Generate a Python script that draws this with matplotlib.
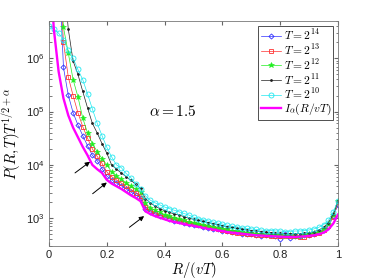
import numpy as np
import matplotlib
matplotlib.use('Agg')
import matplotlib.pyplot as plt

plt.rcParams['font.family'] = ['Liberation Sans', 'DejaVu Sans']
plt.rcParams['mathtext.fontset'] = 'cm'

# R/(vT) grid, step 1/60
R = np.arange(61) / 60

# log10 of P(R,T) T^(1/2+alpha)
logP_T14 = [10, 8.5, 7.9, 5.83, 5.31, 4.98, 4.75, 4.55, 4.36, 4.18,
            4.08, 3.93, 3.79, 3.72, 3.66, 3.61, 3.55, 3.49, 3.44, 3.38,
            3.18, 3.12, 3.08, 3.05, 3.02, 2.99, 2.95, 2.94, 2.91, 2.90,
            2.87, 2.87, 2.83, 2.82, 2.80, 2.79, 2.77, 2.76, 2.74, 2.74,
            2.71, 2.71, 2.70, 2.69, 2.67, 2.68, 2.68, 2.66, 2.62, 2.70,
            2.63, 2.66, 2.67, 2.68, 2.68, 2.70, 2.74, 2.78, 2.86, 3.05, 3.25]
logP_T13 = [10, 9.0, 8.0, 6.30, 5.65, 5.30, 4.98, 4.72, 4.50, 4.30,
            4.16, 4.03, 3.87, 3.78, 3.72, 3.66, 3.60, 3.54, 3.48, 3.42,
            3.22, 3.14, 3.10, 3.06, 3.03, 3.00, 2.98, 2.95, 2.93, 2.91,
            2.89, 2.87, 2.85, 2.83, 2.81, 2.79, 2.78, 2.77, 2.75, 2.72,
            2.73, 2.71, 2.70, 2.69, 2.68, 2.68, 2.67, 2.67, 2.66, 2.67,
            2.66, 2.66, 2.64, 2.65, 2.68, 2.70, 2.73, 2.78, 2.86, 3.02, 3.30]
logP_T12 = [10, 9.0, 8.0, 6.58, 6.10, 5.60, 5.28, 4.88, 4.60, 4.40,
            4.25, 4.12, 4.00, 3.87, 3.80, 3.73, 3.67, 3.60, 3.55, 3.49,
            3.28, 3.20, 3.15, 3.11, 3.07, 3.04, 3.01, 2.98, 2.96, 2.93,
            2.91, 2.89, 2.87, 2.86, 2.84, 2.82, 2.80, 2.79, 2.77, 2.76,
            2.75, 2.73, 2.72, 2.71, 2.70, 2.70, 2.69, 2.68, 2.68, 2.67,
            2.68, 2.67, 2.67, 2.68, 2.70, 2.72, 2.75, 2.80, 2.89, 3.06, 3.33]
logP_T11 = [10, 9.0, 8.5, 7.60, 6.55, 5.95, 5.70, 5.38, 5.07, 4.78,
            4.60, 4.40, 4.22, 4.00, 3.92, 3.85, 3.78, 3.71, 3.64, 3.56,
            3.37, 3.29, 3.23, 3.18, 3.14, 3.11, 3.08, 3.06, 3.03, 3.00,
            2.98, 2.96, 2.94, 2.92, 2.90, 2.88, 2.86, 2.84, 2.83, 2.81,
            2.80, 2.78, 2.77, 2.76, 2.75, 2.74, 2.73, 2.72, 2.72, 2.71,
            2.71, 2.71, 2.71, 2.72, 2.73, 2.75, 2.78, 2.83, 2.92, 3.08, 3.33]
logP_T10 = [6.60, 6.55, 6.47, 6.35, 6.15, 6.00, 5.79, 5.60, 5.33, 5.05,
            4.78, 4.55, 4.33, 4.15, 4.00, 3.95, 3.84, 3.76, 3.65, 3.54,
            3.42, 3.34, 3.29, 3.25, 3.21, 3.18, 3.15, 3.12, 3.09, 3.06,
            3.02, 2.99, 2.97, 2.95, 2.93, 2.91, 2.89, 2.87, 2.85, 2.84,
            2.82, 2.81, 2.80, 2.79, 2.78, 2.77, 2.77, 2.76, 2.76, 2.75,
            2.75, 2.76, 2.76, 2.77, 2.78, 2.80, 2.83, 2.88, 2.96, 3.12, 3.33]
logI_alpha = [8.0, 6.55, 5.75, 5.25, 4.93, 4.70, 4.52, 4.34, 4.18, 4.00,
              3.92, 3.85, 3.72, 3.65, 3.60, 3.55, 3.49, 3.43, 3.38, 3.32,
              3.13, 3.08, 3.04, 3.01, 2.98, 2.95, 2.93, 2.91, 2.89, 2.87,
              2.86, 2.84, 2.82, 2.80, 2.79, 2.77, 2.76, 2.74, 2.73, 2.72,
              2.71, 2.70, 2.69, 2.68, 2.675, 2.67, 2.665, 2.66, 2.655, 2.65,
              2.65, 2.65, 2.655, 2.66, 2.67, 2.68, 2.70, 2.73, 2.79, 2.90, 3.07]

labels = [r'$T=2^{14}$', r'$T=2^{13}$', r'$T=2^{12}$', r'$T=2^{11}$', r'$T=2^{10}$']

# arrows (tail R, tail log, head R, head log)
arrows = [(0.09, 3.85, 0.142, 4.06),
          (0.151, 3.46, 0.20, 3.67),
          (0.278, 2.83, 0.329, 3.04)]

fig = plt.figure(figsize=(3.74, 2.80), dpi=100)
ax = fig.add_axes([0.131, 0.121, 0.773, 0.804])

series = [logP_T14, logP_T13, logP_T12, logP_T11, logP_T10]
styles = [dict(color='#3030ff', marker='D', mfc='none', ms=2.6, mew=0.6),
          dict(color='#ff3030', marker='s', mfc='none', ms=2.6, mew=0.6),
          dict(color='#20ee20', marker='*', ms=4, mew=0.4),
          dict(color='#202020', marker='.', ms=2),
          dict(color='#20e8f0', marker='o', mfc='none', ms=3.6, mew=0.6)]
for vals, lab, st in zip(series, labels, styles):
    ax.plot(R, 10 ** np.array(vals), lw=0.5, label=lab, **st)
ax.plot(R, 10 ** np.array(logI_alpha), color='#ff00ff', lw=1.7, label=r'$I_\alpha(R/vT)$')

for r0, l0, r1, l1 in arrows:
    ax.annotate('', xy=(r1, 10 ** l1), xytext=(r0, 10 ** l0),
                arrowprops=dict(arrowstyle='-|>', color='k', lw=0.7,
                                mutation_scale=7, shrinkA=0, shrinkB=0))

ax.text(0.43, 1e5, r'$\alpha=1.5$', fontsize=11, ha='center', va='center')

ax.set_yscale('log')
ax.set_xlim(0, 1)
ax.set_ylim(300, 5e6)
ax.set_xticks([0, 0.2, 0.4, 0.6, 0.8, 1])
ax.set_xticklabels(['0', '0.2', '0.4', '0.6', '0.8', '1'])
ax.tick_params(which='both', direction='in', top=True, right=True,
               labelsize=8, color='#666666', labelcolor='#222222', length=3, pad=3)
ax.tick_params(which='minor', length=1.8)
for s in ax.spines.values():
    s.set_color('#777777')
    s.set_linewidth(0.6)

ax.set_xlabel(r'$R/(vT)$', fontsize=10.5, labelpad=0)
ax.set_ylabel(r'$P(R,T)T^{1/2+\alpha}$', fontsize=10.5, labelpad=2)

leg = ax.legend(loc='upper right', fontsize=8.3, labelspacing=0.0,
                handlelength=1.8, handletextpad=0.2, borderpad=0.2,
                borderaxespad=0.4, fancybox=False, framealpha=1)
leg.get_frame().set_edgecolor('#333333')
leg.get_frame().set_linewidth(0.6)

plt.savefig('out.png', dpi=100)
